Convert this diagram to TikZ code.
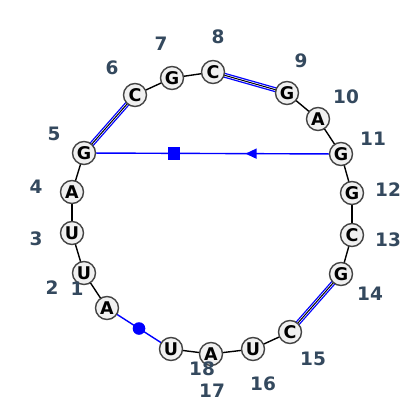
\documentclass[tikz,border=0pt]{standalone}
\usepackage{fontspec}
\setmainfont{DejaVu Sans}
\usetikzlibrary{calc}
\definecolor{labc}{HTML}{34495E}
\definecolor{nfill}{HTML}{F0F0F0}
\definecolor{nbord}{HTML}{444444}
\begin{document}
\begin{tikzpicture}[x=1pt,y=-1pt,
  base/.style={circle,draw=nbord,fill=nfill,line width=1.4pt,minimum size=23pt,inner sep=0pt,font=\fontsize{17.5}{17.5}\selectfont\bfseries},
  numlab/.style={text=labc,font=\fontsize{18.5}{18.5}\selectfont\bfseries,inner sep=0pt},
  bb/.style={black,line width=1.4pt},
  wcouter/.style={blue,line width=1.3pt,double=white,double distance=2.4pt},
  wcinner/.style={black,line width=1pt},
  nc/.style={blue,line width=1.4pt}]
\useasboundingbox (0,0) rectangle (400,403);
\fill[white] (0,0) rectangle (400,403);
% coordinates of nucleotides
\coordinate (p1) at (107,308);
\coordinate (p2) at (84,273);
\coordinate (p3) at (72,233);
\coordinate (p4) at (72,192);
\coordinate (p5) at (84,153);
\coordinate (p6) at (135,95);
\coordinate (p7) at (172,78);
\coordinate (p8) at (213,72);
\coordinate (p9) at (287,93);
\coordinate (p10) at (318,119);
\coordinate (p11) at (341,154);
\coordinate (p12) at (352,193);
\coordinate (p13) at (352,235);
\coordinate (p14) at (341,274);
\coordinate (p15) at (290,332);
\coordinate (p16) at (253,349);
\coordinate (p17) at (211,354);
\coordinate (p18) at (171,349);
% backbone
\foreach \i [evaluate=\i as \j using int(\i+1)] in {1,...,17} {
  \draw[bb] (p\i) -- (p\j);
}
% canonical pairs
\foreach \a/\b in {5/6,8/9,14/15} {
  \draw[wcouter] (p\a) -- (p\b);
  \draw[wcinner] (p\a) -- (p\b);
}
% non-canonical pairs
\draw[nc] (p1) -- (p18);
\fill[blue] ($(p1)!0.5!(p18)$) circle (6.3pt);
\draw[nc] (p5) -- (p11);
\fill[blue] ($(p5)!0.35!(p11)$) ++(-6.2,-6.2) rectangle ++(12.4,12.4);
\fill[blue] ($(p5)!0.65!(p11)$) ++(-5.5,0) -- ++(11,-5.2) -- ++(0,10.4) -- cycle;
% nucleotides
\node[base] (n1) at (p1) {A};
\node[base] (n2) at (p2) {U};
\node[base] (n3) at (p3) {U};
\node[base] (n4) at (p4) {A};
\node[base] (n5) at (p5) {G};
\node[base] (n6) at (p6) {C};
\node[base] (n7) at (p7) {G};
\node[base] (n8) at (p8) {C};
\node[base] (n9) at (p9) {G};
\node[base] (n10) at (p10) {A};
\node[base] (n11) at (p11) {G};
\node[base] (n12) at (p12) {G};
\node[base] (n13) at (p13) {C};
\node[base] (n14) at (p14) {G};
\node[base] (n15) at (p15) {C};
\node[base] (n16) at (p16) {U};
\node[base] (n17) at (p17) {A};
\node[base] (n18) at (p18) {U};
% numbers
\node[numlab] (l1) at (77,289) {1};
\node[numlab] (l2) at (52,288) {2};
\node[numlab] (l3) at (36,239) {3};
\node[numlab] (l4) at (36,187) {4};
\node[numlab] (l5) at (54,134) {5};
\node[numlab] (l6) at (112,68) {6};
\node[numlab] (l7) at (161,44) {7};
\node[numlab] (l8) at (218,37) {8};
\node[numlab] (l9) at (301,61) {9};
\node[numlab] (l10) at (346,97) {10};
\node[numlab] (l11) at (373,139) {11};
\node[numlab] (l12) at (388,190) {12};
\node[numlab] (l13) at (388,240) {13};
\node[numlab] (l14) at (370,294) {14};
\node[numlab] (l15) at (313,359) {15};
\node[numlab] (l16) at (263,384) {16};
\node[numlab] (l17) at (212,391) {17};
\node[numlab] (l18) at (202,369) {18};
\end{tikzpicture}
\end{document}
